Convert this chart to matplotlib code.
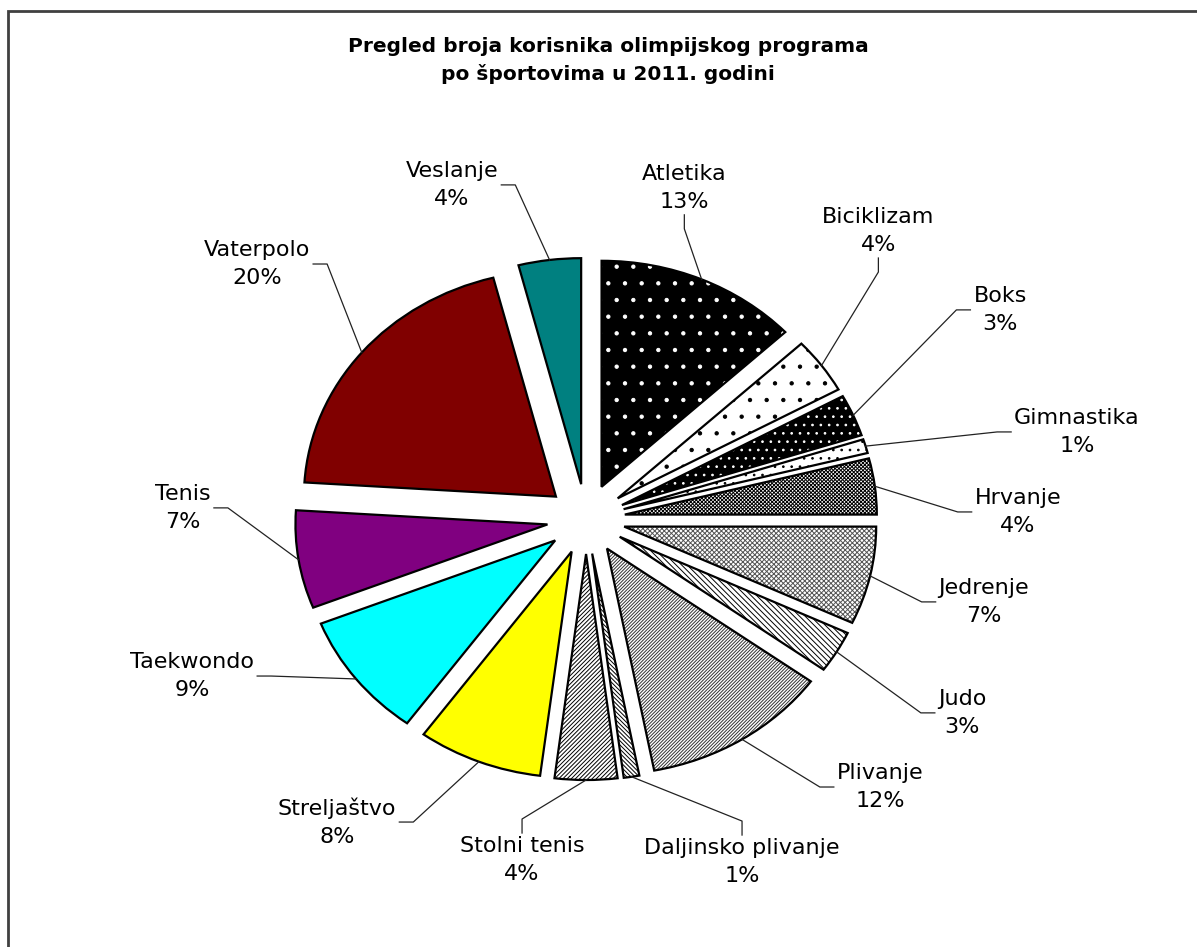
import matplotlib
matplotlib.use('Agg')

import numpy as np
import matplotlib.pyplot as plt
from matplotlib.patches import Rectangle

plt.rcParams['hatch.linewidth'] = 0.7

# data
sports = ['Atletika', 'Biciklizam', 'Boks', 'Gimnastika', 'Hrvanje', 'Jedrenje', 'Judo',
          'Plivanje', 'Daljinsko plivanje', 'Stolni tenis', 'Streljaštvo', 'Taekwondo',
          'Tenis', 'Vaterpolo', 'Veslanje']
shares = [13, 4, 3, 1, 4, 7, 3, 12, 1, 4, 8, 9, 7, 20, 4]

# styles
face_colors = ['black', 'white', 'black', 'white', 'white', 'white', 'white',
               'white', 'white', 'white', '#ffff00', '#00ffff', '#800080', '#800000', '#008080']
hatches = ['.', '.', '..', '..', 'x' * 9, 'x' * 7, '\\' * 6, '/' * 10, '\\' * 8, '/' * 8,
           None, None, None, None, None]
hatch_colors = ['white', 'black', 'white', 'black', 'black', '#555555', 'black',
                '#333333', 'black', 'black', 'black', 'black', 'black', 'black', 'black']

# label layout (pie units) and side where the leader line meets the label
label_xy = [(0.39, 1.465), (1.16, 1.274), (1.643, 0.925), (1.948, 0.385), (1.714, 0.031),
            (1.579, -0.367), (1.492, -0.858), (1.167, -1.186), (0.619, -1.518),
            (-0.254, -1.509), (-0.988, -1.341), (-1.563, -0.695), (-1.599, 0.049),
            (-1.306, 1.128), (-0.532, 1.478)]
label_side = ['b', 'b', 'l', 'l', 'l', 'l', 'l', 'l', 't', 't', 'r', 'r', 'r', 'r', 'r']

explode = [0.155] * len(shares)

fig = plt.figure(figsize=(11.97, 9.47), dpi=100)

# chart border (only top and left visible)
fig.add_artist(Rectangle((8 / 1197, -0.1), 1.2, 1.1 - 11 / 947, transform=fig.transFigure,
                         fill=False, edgecolor='#404040', linewidth=2, clip_on=False))

fig.text(608 / 1197, 1 - 61 / 947,
         'Pregled broja korisnika olimpijskog programa\npo športovima u 2011. godini',
         ha='center', va='center', fontsize=14.5, fontweight='bold', linespacing=1.5)

ax = fig.add_axes([0.1738, 0.094, 0.6316, 0.716])

wedges, _ = ax.pie(shares, explode=explode, startangle=90, counterclock=False,
                   wedgeprops=dict(linewidth=0))
for w, fc, h, hc in zip(wedges, face_colors, hatches, hatch_colors):
    w.set_facecolor(fc)
    w.set_edgecolor(hc)
    w.set_linewidth(0)
    if h:
        w.set_hatch(h)

# outlines on top
ax.pie(shares, explode=explode, startangle=90, counterclock=False,
       wedgeprops=dict(fill=False, edgecolor='black', linewidth=1.6))

ax.set_xlim(-1.5, 1.5)
ax.set_ylim(-1.5, 1.5)
ax.set_aspect('auto')
ax.axis('off')

texts = []
for name, s, (lx, ly) in zip(sports, shares, label_xy):
    t = ax.text(lx, ly, f'{name}\n{s}%', ha='center', va='center', fontsize=16,
                linespacing=1.5, clip_on=False)
    texts.append(t)

fig.canvas.draw()
inv = ax.transData.inverted()
tick_x = 14 / 252
tick_y = 14 / 226
gap_x = 3 / 252
gap_y = 3 / 226

cum = np.cumsum([0] + shares[:-1])
total = float(sum(shares))
for i, t in enumerate(texts):
    theta = np.deg2rad(90 - 360 * (cum[i] + shares[i] / 2) / total)
    r = 1 + explode[i]
    p0 = (r * np.cos(theta), r * np.sin(theta))
    bb = t.get_window_extent().transformed(inv)
    xm = (bb.x0 + bb.x1) / 2
    ym = (bb.y0 + bb.y1) / 2
    side = label_side[i]
    if side == 'r':
        end = (bb.x1 + gap_x, ym)
        elbow = (end[0] + tick_x, ym)
    elif side == 'l':
        end = (bb.x0 - gap_x, ym)
        elbow = (end[0] - tick_x, ym)
    elif side == 'b':
        end = (xm, bb.y0 - gap_y)
        elbow = (xm, end[1] - tick_y)
    else:
        end = (xm, bb.y1 + gap_y)
        elbow = (xm, end[1] + tick_y)
    ax.plot([p0[0], elbow[0], end[0]], [p0[1], elbow[1], end[1]], color='#222222',
            linewidth=0.9, clip_on=False)

fig.savefig('out.png', dpi=100)
